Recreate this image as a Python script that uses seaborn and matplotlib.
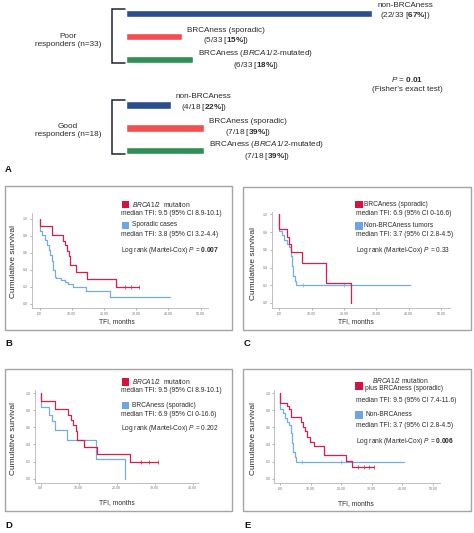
import numpy as np
import pandas as pd
import matplotlib
matplotlib.use('Agg')
import matplotlib.pyplot as plt
import seaborn as sns
from matplotlib.patches import Rectangle
from matplotlib.lines import Line2D

sns.set_theme(style='white')
plt.rcParams['font.family'] = ['Liberation Sans', 'DejaVu Sans']
plt.rcParams['mathtext.fontset'] = 'custom'
plt.rcParams['mathtext.rm'] = 'Liberation Sans'
plt.rcParams['mathtext.it'] = 'Liberation Sans:italic'
plt.rcParams['mathtext.bf'] = 'Liberation Sans:bold'

# ---------------- data: panel A ----------------
group_labels = ['Poor\nresponders (n=33)', 'Good\nresponders (n=18)']
group_totals = [33, 18]
category_labels = ['non-BRCAness', 'BRCAness (sporadic)', r'BRCAness ($\mathit{BRCA1/2}$-mutated)']
poor_counts = [22, 5, 6]
good_counts = [4, 7, 7]
fisher_p = '0.01'

# ---------------- data: Kaplan-Meier curves (TFI, months) ----------------
brca_times = [0, 3.9, 7.3, 7.9, 8.5, 9.2, 9.6, 11.4, 14.8, 23.6]
brca_surv = [0.91, 0.81, 0.74, 0.685, 0.625, 0.56, 0.45, 0.37, 0.29, 0.20]
brca_end = 30.9
brca_censor = [26.5, 28.5, 30.9]

spor_times = [0, 0.8, 1.6, 2.3, 2.85, 3.35, 3.9, 4.2, 4.7, 5.2, 6.8, 7.8, 8.85, 10.4, 14.5, 21.8]
spor_surv = [0.85, 0.81, 0.75, 0.69, 0.635, 0.575, 0.50, 0.40, 0.32, 0.30, 0.28, 0.255, 0.23, 0.20, 0.155, 0.075]
spor_end = 40.4

bness_times = [0, 2.3, 2.9, 3.7, 7.0, 14.5, 22.1]
bness_surv = [0.84, 0.75, 0.67, 0.57, 0.45, 0.23, 0.0]
bness_end = 22.1

non_times = [0, 0.8, 1.5, 2.2, 3.0, 3.6, 3.9, 4.3, 4.8, 5.1]
non_surv = [0.81, 0.77, 0.715, 0.66, 0.63, 0.53, 0.415, 0.31, 0.25, 0.20]
non_end = 40.5
non_censor = [7.2, 20.0]

comb_times = [0, 2.1, 2.8, 3.6, 6.9, 7.4, 8.3, 8.8, 9.9, 11.0, 14.5, 21.7, 23.5]
comb_surv = [0.88, 0.85, 0.82, 0.725, 0.665, 0.61, 0.56, 0.49, 0.43, 0.385, 0.28, 0.21, 0.135]
comb_end = 30.8
comb_censor = [25.5, 27.5, 29.0, 30.8]

x_tick_values = [0, 10, 20, 30, 40, 50]
x_tick_labels = ['.00', '10.00', '20.00', '30.00', '40.00', '50.00']
y_tick_values = [0.0, 0.2, 0.4, 0.6, 0.8, 1.0]
y_tick_labels = ['0.0', '0.2', '0.4', '0.6', '0.8', '1.0']

# ---------------- styling ----------------
W, H = 474, 533
BAR_COLORS = ['#2c4d8e', '#f44e4e', '#2f8f57']
RED = '#d81e4b'
BLUE = '#74ace4'
SQ_RED = '#d6123e'
SQ_BLUE = '#6aa6e6'
TXT = '#2a2a2a'
FRAME = '#a4a4a4'

fig = plt.figure(figsize=(W / 100, H / 100), dpi=100)
fig.patch.set_facecolor('white')


def fx(x):
    return x / W


def fy(y):
    return 1 - y / H


def add_ax(l, t, r, b):
    return fig.add_axes([fx(l), fy(b), (r - l) / W, (b - t) / H])


def ftext(x, y, s, **kw):
    kw.setdefault('color', TXT)
    fig.text(fx(x), fy(y), s, **kw)


def fline(xs, ys, **kw):
    fig.add_artist(Line2D([fx(v) for v in xs], [fy(v) for v in ys],
                          transform=fig.transFigure, **kw))


def frect(x, y, w, h, **kw):
    fig.add_artist(Rectangle((fx(x), fy(y + h)), w / W, h / H,
                             transform=fig.transFigure, **kw))


# ================= Panel A =================
px_per_count = 11.2
axA = add_ax(126, 2.3, 474, 162.1)
rows = []
for gi, counts in enumerate([poor_counts, good_counts]):
    for ci, c in enumerate(counts):
        rows.append(dict(slot=str(gi * 4 + ci), count=c, cat=str(ci),
                         total=group_totals[gi], label=category_labels[ci]))
dfA = pd.DataFrame(rows)
sns.barplot(data=dfA, x='count', y='slot', hue='cat', order=[str(i) for i in range(7)],
            palette={str(i): BAR_COLORS[i] for i in range(3)}, orient='h',
            width=0.32, dodge=False, legend=False, saturation=1, ax=axA)
axA.set_xlim(0, 348 / px_per_count)
axA.set_ylim(6.5, -0.5)
axA.axis('off')
for _, r in dfA.iterrows():
    pct = round(100 * r['count'] / r['total'])
    s = r['label'] + '\n(' + f"{r['count']}/{r['total']} [" + r'$\mathbf{' + f'{pct}' + r'\%}$])'
    dy = -0.09 if r['cat'] == '0' else 0.0
    axA.text(r['count'] + 5 / px_per_count, int(r['slot']) + dy, s, ha='left', va='center',
             multialignment='center', fontsize=5.9, color=TXT)

# brackets and group labels
for (ytop, ybot, ylab), g in zip([(9.3, 62.7, 40), (100, 154, 131)], group_labels):
    fline([125, 112, 112, 125], [ytop, ytop, ybot, ybot], color='#1d2438', lw=1.1,
          solid_joinstyle='miter')
    ftext(68, ylab, g, ha='center', va='center', multialignment='center', fontsize=5.9)

ftext(407, 80, r'$\mathit{P}$ = $\mathbf{' + fisher_p + '}$', ha='center', va='center', fontsize=5.9)
ftext(407, 89.5, '(Fisher\u2019s exact test)', ha='center', va='center', fontsize=5.9)
ftext(5, 169, 'A', ha='left', va='center', fontsize=6.8, fontweight='bold', color='#111111')


# ================= KM panels =================
def step_frame(times, surv, end):
    xs = [0.0] + list(times) + [end]
    ys = [1.0] + list(surv) + [surv[-1]]
    return pd.DataFrame(dict(t=xs, s=ys))


def surv_at(times, surv, t):
    idx = np.searchsorted(np.array(times), t, side='right') - 1
    return surv[idx] if idx >= 0 else 1.0


curves = {
    'brca': (brca_times, brca_surv, brca_end, brca_censor),
    'spor': (spor_times, spor_surv, spor_end, []),
    'bness': (bness_times, bness_surv, bness_end, []),
    'non': (non_times, non_surv, non_end, non_censor),
    'comb': (comb_times, comb_surv, comb_end, comb_censor),
}

panels = [
    dict(letter='B', lxy=(5, 343), box=(5, 186, 232, 330), ax=(32, 213, 208, 308),
         xlim=(-2.33, 52.3), ylim=(-0.05, 1.067), nticks=6, ylab=(14, 262), xlab=(117, 322),
         curves=[('spor', BLUE), ('brca', RED)]),
    dict(letter='C', lxy=(244, 343), box=(243, 187, 471, 330), ax=(272, 211.7, 450, 308.3),
         xlim=(-2.3, 52.8), ylim=(-0.06, 1.03), nticks=6, ylab=(253.7, 263.3), xlab=(356, 321.7),
         curves=[('non', BLUE), ('bness', RED)]),
    dict(letter='D', lxy=(5, 525), box=(5, 369, 232, 511), ax=(35, 390, 198, 482.7),
         xlim=(-1.45, 41.4), ylim=(-0.047, 1.037), nticks=5, ylab=(14, 438.3), xlab=(117.3, 502.3),
         curves=[('bness', BLUE), ('brca', RED)]),
    dict(letter='E', lxy=(244, 525), box=(243, 369, 471, 511), ax=(274.3, 390, 440.3, 483.3),
         xlim=(-1.9, 52.4), ylim=(-0.054, 1.037), nticks=6, ylab=(253.7, 438.3), xlab=(356.3, 503.3),
         curves=[('non', BLUE), ('comb', RED)]),
]

for p in panels:
    x1, y1, x2, y2 = p['box']
    frect(x1, y1, x2 - x1, y2 - y1, fill=False, ec=FRAME, lw=1.0)
    ftext(p['lxy'][0], p['lxy'][1], p['letter'], ha='left', va='center', fontsize=6.8,
          fontweight='bold', color='#111111')
    ax = add_ax(*p['ax'])
    ax.set_facecolor('none')
    for key, col in p['curves']:
        times, surv, end, cens = curves[key]
        d = step_frame(times, surv, end)
        sns.lineplot(data=d, x='t', y='s', estimator=None, sort=False, drawstyle='steps-post',
                     color=col, lw=0.9, ax=ax)
        if cens:
            cd = pd.DataFrame(dict(t=cens, s=[surv_at(times, surv, c) for c in cens]))
            sns.scatterplot(data=cd, x='t', y='s', marker='|', s=6, color=col, linewidth=0.5, ax=ax)
    ax.set_xlim(*p['xlim'])
    ax.set_ylim(*p['ylim'])
    n = p['nticks']
    ax.set_xticks(x_tick_values[:n])
    ax.set_xticklabels(x_tick_labels[:n])
    ax.set_yticks(y_tick_values)
    ax.set_yticklabels(y_tick_labels)
    ax.tick_params(axis='both', labelsize=2.6, colors='#777777', length=1.2, width=0.4, pad=1.5,
                   direction='out', bottom=True, left=True)
    for side in ['top', 'right']:
        ax.spines[side].set_visible(False)
    for side in ['left', 'bottom']:
        ax.spines[side].set_color('#b5b5b5')
        ax.spines[side].set_linewidth(0.6)
    ax.set_xlabel('')
    ax.set_ylabel('')
    ftext(p['ylab'][0], p['ylab'][1], 'Cumulative survival', rotation=90, ha='center', va='center',
          fontsize=6.0)
    ftext(p['xlab'][0], p['xlab'][1], 'TFI, months', ha='center', va='center', fontsize=4.8)

LS = 4.8
# ---- legend B ----
frect(122, 200.7, 7, 7.5, fc=SQ_RED, ec='none')
ftext(132, 204.3, r'$\mathit{BRCA1/2}$  mutation', va='center', fontsize=LS)
ftext(120.7, 213.7, 'median TFI: 9.5 (95% CI 8.9-10.1)', va='center', fontsize=LS)
frect(122, 221.5, 7, 7.5, fc=SQ_BLUE, ec='none')
ftext(132, 225, 'Sporadic cases', va='center', fontsize=LS)
ftext(120.7, 235, 'median TFI: 3.8 (95% CI 3.2-4.4)', va='center', fontsize=LS)
ftext(120.7, 250.7, r'Log rank (Mantel-Cox) $\mathit{P}$ = $\mathbf{0.007}$', va='center', fontsize=LS)

# ---- legend C ----
frect(355.3, 200.7, 7.7, 7.6, fc=SQ_RED, ec='none')
ftext(364.5, 204.3, 'BRCAness (sporadic)', va='center', fontsize=LS)
ftext(356.3, 213.3, 'median TFI: 6.9 (95% CI 0-16.6)', va='center', fontsize=LS)
frect(355.3, 221.7, 7.7, 8.0, fc=SQ_BLUE, ec='none')
ftext(364.5, 225.2, 'Non-BRCAness tumors', va='center', fontsize=LS)
ftext(356.3, 235, 'median TFI: 3.7 (95% CI 2.8-4.5)', va='center', fontsize=LS)
ftext(356.3, 250, r'Log rank (Mantel-Cox) $\mathit{P}$ = 0.33', va='center', fontsize=LS)

# ---- legend D ----
frect(121.7, 377.7, 7.6, 8.0, fc=SQ_RED, ec='none')
ftext(132, 381.3, r'$\mathit{BRCA1/2}$  mutation', va='center', fontsize=LS)
ftext(120.7, 390, 'median TFI: 9.5 (95% CI 8.9-10.1)', va='center', fontsize=LS)
frect(121.7, 401.7, 7.6, 7.6, fc=SQ_BLUE, ec='none')
ftext(132, 405.7, 'BRCAness (sporadic)', va='center', fontsize=LS)
ftext(120.7, 414.3, 'median TFI: 6.9 (95% CI 0-16.6)', va='center', fontsize=LS)
ftext(120.7, 428.3, r'Log rank (Mantel-Cox) $\mathit{P}$ = 0.202', va='center', fontsize=LS)

# ---- legend E ----
frect(355.3, 382.3, 7.7, 7.7, fc=SQ_RED, ec='none')
ftext(400.5, 380.7, r'$\mathit{BRCA1/2}$ mutation', ha='center', va='center', fontsize=LS)
ftext(365.3, 388.3, 'plus BRCAness (sporadic)', va='center', fontsize=LS)
ftext(356, 400, 'median TFI: 9.5 (95% CI 7.4-11.6)', va='center', fontsize=LS)
frect(355.3, 411, 7.7, 8.0, fc=SQ_BLUE, ec='none')
ftext(365.3, 414.5, 'Non-BRCAness', va='center', fontsize=LS)
ftext(356, 425.7, 'median TFI: 3.7 (95% CI 2.8-4.5)', va='center', fontsize=LS)
ftext(356, 441.7, r'Log rank (Mantel-Cox) $\mathit{P}$ = $\mathbf{0.006}$', va='center', fontsize=LS)

fig.savefig('out.png', dpi=100, facecolor='white')
